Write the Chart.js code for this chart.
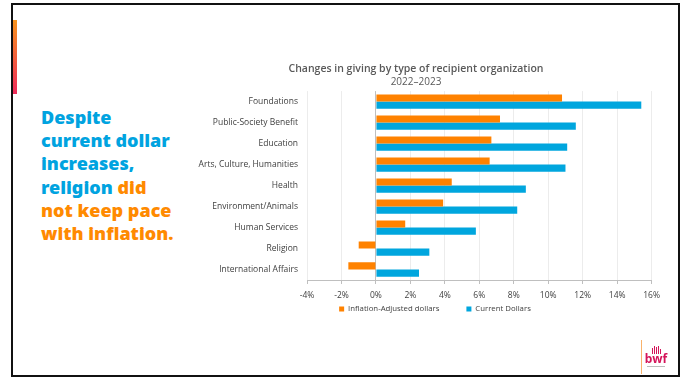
<!DOCTYPE html>
<html>
<head>
<meta charset="utf-8">
<script src="https://cdn.jsdelivr.net/npm/chart.js@4"></script>
<style>
  html, body { margin: 0; padding: 0; background: #fff; }
  #slide { position: relative; width: 685px; height: 378px; overflow: hidden; background: #fff; }
  #frame { position: absolute; left: 11px; top: 3px; width: 665px; height: 370px; border: 2px solid #111; }
  #accent { position: absolute; left: 13px; top: 20px; width: 4px; height: 74px;
            background: linear-gradient(#f7941d, #ee2b5b); }
  #headline { position: absolute; left: 41px; top: 106px; margin: 0;
              font-family: 'Noto Sans', 'Open Sans', sans-serif; font-weight: 900;
              font-size: 18px; line-height: 23.2px; color: #00a3e0; }
  #headline .hot { color: #ff8a00; }
  #chartBox { position: absolute; left: 178px; top: 55px; width: 488px; height: 296px; }
  #logoRule { position: absolute; left: 641px; top: 340px; width: 1px; height: 34px; background: #f9b26b; }
  #logo { position: absolute; left: 644px; top: 346px; width: 24px; text-align: center; }
  #logo .bars { height: 8px; display: flex; justify-content: center; align-items: flex-end; gap: 1px; }
  #logo .bars span { width: 1px; background: #d4145a; }
  #logo .word { font-family: 'Noto Sans', sans-serif; font-weight: 700; font-size: 12px; line-height: 10px; color: #d4145a; }
  #logo .tag { margin: 2px auto 0; width: 18px; height: 1px; background: #bbb; }
</style>
</head>
<body>
<div id="slide">
  <div id="frame"></div>
  <div id="accent"></div>
  <p id="headline">Despite<br>current dollar<br>increases,<br>religion <span class="hot">did</span><br><span class="hot">not keep pace</span><br><span class="hot">with inflation.</span></p>
  <div id="chartBox"><canvas id="givingChart"></canvas></div>
  <div id="logoRule"></div>
  <div id="logo">
    <div class="bars"><span style="height:6px"></span><span style="height:8px"></span><span style="height:7px"></span><span style="height:8px"></span><span style="height:5px"></span></div>
    <div class="word">bwf</div>
    <div class="tag"></div>
  </div>
</div>
<script>
// giving growth by recipient type, percent change 2022-2023
const categories = [
  'Foundations', 'Public-Society Benefit', 'Education', 'Arts, Culture, Humanities',
  'Health', 'Environment/Animals', 'Human Services', 'Religion', 'International Affairs'
];
const inflationAdjusted = [10.8, 7.2, 6.7, 6.6, 4.4, 3.9, 1.7, -1.0, -1.6];
const currentDollars = [15.4, 11.6, 11.1, 11.0, 8.7, 8.2, 5.8, 3.1, 2.5];
const xTicks = [-4, -2, 0, 2, 4, 6, 8, 10, 12, 14, 16];

const FONT = "'Open Sans', 'Noto Sans', sans-serif";
const TEXT = '#595959';

// moves the legend row off the chart's default bottom slot
const legendNudge = {
  id: 'legendNudge',
  afterLayout(chart, args, opts) {
    const lg = chart.legend;
    if (!lg) return;
    lg.left += opts.dx; lg.right += opts.dx;
    lg.top += opts.dy; lg.bottom += opts.dy;
  }
};

new Chart(document.getElementById('givingChart'), {
  type: 'bar',
  data: {
    labels: categories,
    datasets: [
      { label: 'Inflation-Adjusted dollars', data: inflationAdjusted, backgroundColor: '#ff8200' },
      { label: 'Current Dollars', data: currentDollars, backgroundColor: '#00a6de' }
    ]
  },
  plugins: [legendNudge],
  options: {
    indexAxis: 'y',
    responsive: true,
    maintainAspectRatio: false,
    animation: false,
    layout: { padding: { top: 0, right: 12, bottom: 0, left: 0 } },
    datasets: { bar: { categoryPercentage: 0.68, barPercentage: 1.0 } },
    plugins: {
      title: {
        display: true,
        text: 'Changes in giving by type of recipient organization',
        color: TEXT,
        font: { family: FONT, size: 10.5, weight: '600', lineHeight: 1.2 },
        padding: { top: 7.5, bottom: 0 }
      },
      subtitle: {
        display: true,
        text: '2022–2023',
        color: TEXT,
        font: { family: FONT, size: 10, weight: '400', lineHeight: 1.2 },
        padding: { top: 1.5, bottom: 2.5 }
      },
      legend: {
        position: 'bottom',
        labels: {
          boxWidth: 5, boxHeight: 5, padding: 27,
          color: '#404040',
          font: { family: FONT, size: 7.8 }
        }
      },
      legendNudge: { dx: 19, dy: -28 },
      tooltip: { enabled: false }
    },
    scales: {
      x: {
        min: xTicks[0],
        max: xTicks[xTicks.length - 1],
        afterBuildTicks: scale => { scale.ticks = xTicks.map(v => ({ value: v })); },
        grid: {
          color: ctx => (ctx.tick && ctx.tick.value === 0 ? '#bfbfbf' : '#ececec'),
          tickColor: '#bfbfbf',
          tickLength: 4
        },
        border: { display: true, color: '#bfbfbf' },
        ticks: {
          color: '#404040',
          padding: 6,
          font: { family: FONT, size: 8.5 },
          callback: v => v + '%'
        }
      },
      y: {
        afterFit: scale => { scale.width = 129; },
        grid: { display: false, drawTicks: false },
        border: { display: false },
        ticks: { color: '#404040', padding: 9, font: { family: FONT, size: 8.5 } }
      }
    }
  }
});
</script>
</body>
</html>
